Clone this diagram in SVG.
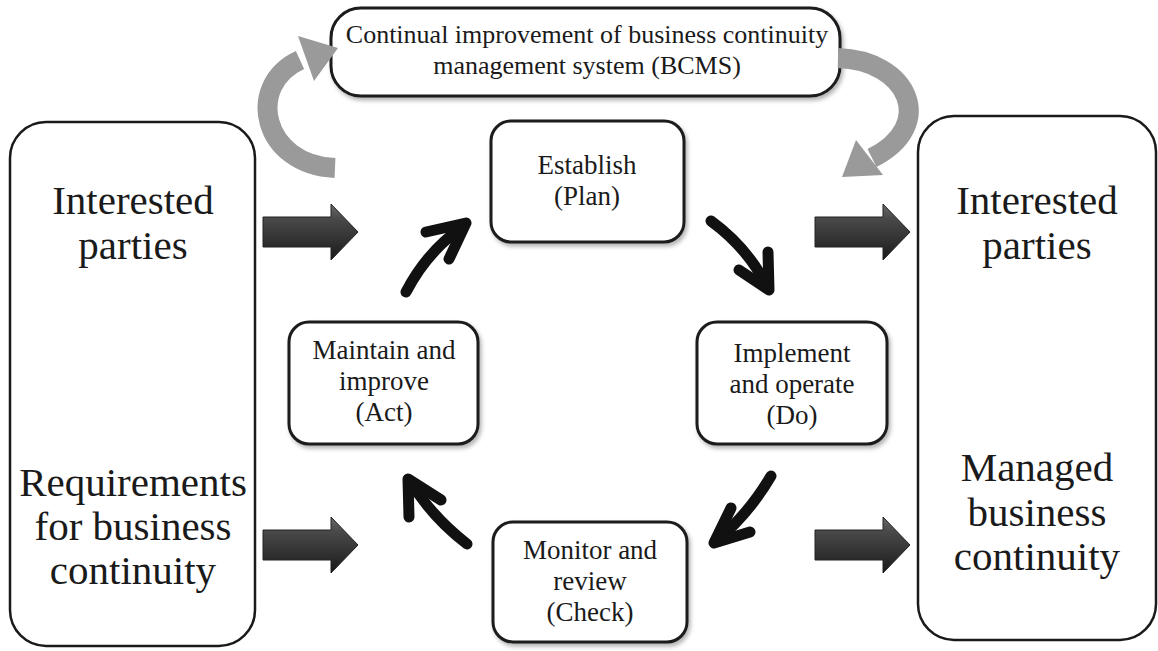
<svg xmlns="http://www.w3.org/2000/svg" width="1158" height="651" viewBox="0 0 1158 651">
<defs>
<style>
.box{fill:#fff;stroke:#1a1a1a;stroke-width:3}
.big{fill:#fff;stroke:#1a1a1a;stroke-width:2.5}
.t{font-family:"Liberation Serif","DejaVu Serif",serif;fill:#1a1a1a;text-anchor:middle}
.s{font-size:27px}
.top{font-size:26px}
.l{font-size:41px}
.blk{fill:none;stroke:#111;stroke-width:11;stroke-linecap:round;stroke-linejoin:round}
.gry{fill:none;stroke:#9a9a9a;stroke-width:20}
</style>
<linearGradient id="dg" x1="0" y1="0" x2="0" y2="1">
<stop offset="0" stop-color="#6a6a6a"/>
<stop offset="0.25" stop-color="#4a4a4a"/>
<stop offset="0.7" stop-color="#2e2e2e"/>
<stop offset="1" stop-color="#1a1a1a"/>
</linearGradient>
<filter id="sh" x="-10%" y="-10%" width="130%" height="130%">
<feDropShadow dx="2" dy="3" stdDeviation="2" flood-color="#000" flood-opacity="0.3"/>
</filter>
<g id="da">
<path d="M0,-15 H68 V-28 L95,0 L68,28 V15 H0 Z" fill="url(#dg)" stroke="#222" stroke-width="1"/>
</g>
</defs>

<g id="left-box">
<rect class="big" x="10" y="122" width="245" height="524" rx="36"/>
<text class="t l" x="133" y="214">Interested</text>
<text class="t l" x="133" y="259">parties</text>
<text class="t l" x="133" y="496">Requirements</text>
<text class="t l" x="133" y="540">for business</text>
<text class="t l" x="133" y="584">continuity</text>
</g>

<g id="right-box">
<rect class="big" x="918" y="116" width="238" height="524" rx="36"/>
<text class="t l" x="1037" y="214">Interested</text>
<text class="t l" x="1037" y="259">parties</text>
<text class="t l" x="1037" y="481">Managed</text>
<text class="t l" x="1037" y="526">business</text>
<text class="t l" x="1037" y="570">continuity</text>
</g>

<g id="top-box">
<rect class="box" x="331" y="8" width="509" height="88" rx="30" filter="url(#sh)"/>
<text class="t top" x="587" y="43">Continual improvement of business continuity</text>
<text class="t top" x="587" y="74">management system (BCMS)</text>
</g>

<g id="establish">
<rect class="box" x="491" y="121" width="193" height="121" rx="20" filter="url(#sh)"/>
<text class="t s" x="587" y="174">Establish</text>
<text class="t s" x="587" y="205">(Plan)</text>
</g>

<g id="maintain">
<rect class="box" x="289" y="322" width="189" height="122" rx="20" filter="url(#sh)"/>
<text class="t s" x="384" y="359">Maintain and</text>
<text class="t s" x="384" y="390">improve</text>
<text class="t s" x="384" y="421">(Act)</text>
</g>

<g id="implement">
<rect class="box" x="697" y="322" width="190" height="122" rx="20" filter="url(#sh)"/>
<text class="t s" x="792" y="362">Implement</text>
<text class="t s" x="792" y="393">and operate</text>
<text class="t s" x="792" y="424">(Do)</text>
</g>

<g id="monitor">
<rect class="box" x="493" y="522" width="194" height="120" rx="20" filter="url(#sh)"/>
<text class="t s" x="590" y="559">Monitor and</text>
<text class="t s" x="590" y="590">review</text>
<text class="t s" x="590" y="621">(Check)</text>
</g>

<g id="connectors">
<path class="gry" d="M335,168 C262,165 245,85 300,60"/>
<polygon points="338,48 298,36 314,81" fill="#9a9a9a"/>
<path class="gry" d="M838,58 C908,60 938,125 872,158"/>
<polygon points="842,177 856,140 883,175" fill="#9a9a9a"/>

<use href="#da" x="263" y="232"/>
<use href="#da" x="263" y="545"/>
<use href="#da" x="815" y="232"/>
<use href="#da" x="815" y="545"/>

<path class="blk" d="M406,292 Q428,250 464,226"/>
<polyline class="blk" points="426,232 466,223 449,259"/>
<path class="blk" d="M711,221 Q748,248 768,288"/>
<polyline class="blk" points="739,270 769,290 768,252"/>
<path class="blk" d="M771,476 Q748,515 716,541"/>
<polyline class="blk" points="731,508 714,543 750,532"/>
<path class="blk" d="M467,544 Q432,517 410,481"/>
<polyline class="blk" points="409,517 408,479 441,500"/>
</g>
</svg>
